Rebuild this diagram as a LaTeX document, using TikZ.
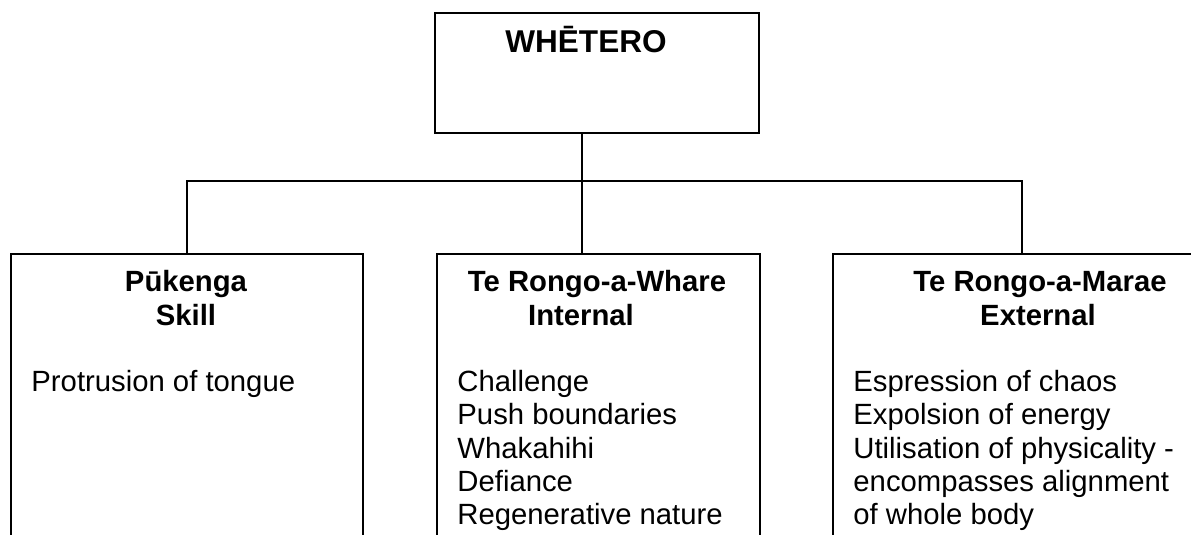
\documentclass[tikz,border=0pt]{standalone}
\usepackage{fontspec}
\setmainfont{Liberation Sans}
\def\upx{0.444pt}
\tikzset{
  chart_box/.style = {rectangle, draw=black, line width=0.8pt,
    inner sep=0pt},% cadre
  head_text/.style = {inner sep=0pt, anchor=base,
    font=\fontsize{13}{14.8}\selectfont\bfseries},% titre de cadre
  body_text/.style = {inner sep=0pt, align=left, anchor=base west,
    font=\fontsize{13}{14.8}\selectfont},% liste
  link/.style = {draw=black, line width=0.8pt}% trait
}
\begin{document}
\begin{tikzpicture}[x=\upx, y=-\upx]
  \useasboundingbox (0,0) rectangle (1191,535);
  \clip (0,0) rectangle (1191,535);
  \node [chart_box, minimum width=324*\upx, minimum height=120*\upx] (whetero) at (597,73) {};
  \node [chart_box, anchor=north west, minimum width=352*\upx, minimum height=400*\upx] (pukenga) at (10,253) {};
  \node [chart_box, anchor=north west, minimum width=323*\upx, minimum height=400*\upx] (whare) at (436,253) {};
  \node [chart_box, anchor=north west, minimum width=370*\upx, minimum height=400*\upx] (marae) at (832,253) {};
  \node [head_text, font=\fontsize{14}{17}\selectfont\bfseries] (whetero_t) at (586,53) {WHĒTERO};
  \node [head_text] (pukenga_h1) at (186,292) {Pūkenga};
  \node [head_text] (pukenga_h2) at (186,326) {Skill};
  \node [head_text] (whare_h1) at (597,292) {Te Rongo-a-Whare};
  \node [head_text] (whare_h2) at (581,326) {Internal};
  \node [head_text] (marae_h1) at (1040,292) {Te Rongo-a-Marae};
  \node [head_text] (marae_h2) at (1038,326) {External};
  % base = last line
  \node [body_text] (pukenga_b) at (31,392) {Protrusion of tongue};
  \node [body_text] (whare_b) at (457,525) {Challenge\\Push boundaries\\Whakahihi\\Defiance\\Regenerative nature};
  \node [body_text] (marae_b) at (853,525) {Espression of chaos\\Expolsion of energy\\Utilisation of physicality -\\encompasses alignment\\of whole body};
  \coordinate (hub) at (582,181);
  \coordinate (marae_join) at (1022,181);
  \draw [link] (whetero.south -| hub) -- (hub);
  \draw [link] (pukenga.north) |- (marae_join) -- (marae_join |- marae.north);
  \draw [link] (hub) -- (hub |- whare.north);
\end{tikzpicture}
\end{document}
